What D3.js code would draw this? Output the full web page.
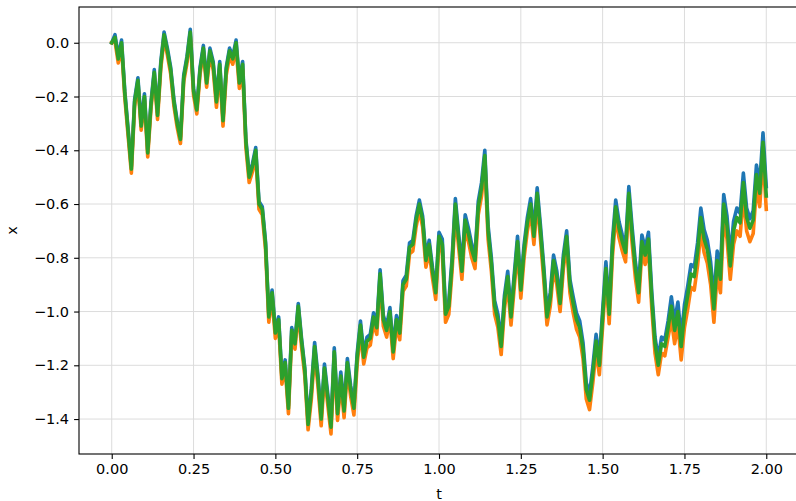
<!DOCTYPE html>
<html>
<head>
<meta charset="utf-8">
<script src="https://cdn.jsdelivr.net/npm/d3@7"></script>
<style>
  html, body { margin: 0; padding: 0; background: #fff; }
  svg { display: block; font-family: "DejaVu Sans", sans-serif; }
</style>
</head>
<body>
<svg id="chart" width="796" height="501"></svg>
<script>
// Three numerical solutions of the same SDE path, sampled every 0.01 on t in [0, 2]
const tStep = 0.01;
const seriesBlue = [
  0.00, 0.03, -0.05, 0.01, -0.18, -0.32, -0.46, -0.21, -0.13, -0.30,
  -0.19, -0.40, -0.22, -0.10, -0.26, -0.07, 0.04, -0.02, -0.09, -0.21,
  -0.29, -0.35, -0.12, -0.05, 0.05, -0.17, -0.24, -0.09, -0.01, -0.14,
  -0.02, -0.07, -0.21, -0.07, -0.28, -0.09, -0.02, -0.05, 0.01, -0.14,
  -0.07, -0.36, -0.49, -0.45, -0.39, -0.59, -0.61, -0.74, -1.01, -0.92,
  -1.07, -1.02, -1.24, -1.18, -1.35, -1.06, -1.11, -0.97, -1.10, -1.21,
  -1.41, -1.285, -1.115, -1.235, -1.385, -1.195, -1.305, -1.415, -1.135, -1.365,
  -1.225, -1.355, -1.175, -1.275, -1.345, -1.155, -1.035, -1.155, -1.095, -1.085,
  -1.005, -1.045, -0.845, -1.015, -1.055, -0.985, -1.135, -1.015, -1.065, -0.885,
  -0.865, -0.745, -0.735, -0.645, -0.585, -0.645, -0.795, -0.735, -0.835, -0.915,
  -0.705, -0.73, -0.99, -0.96, -0.80, -0.58, -0.71, -0.83, -0.64, -0.69,
  -0.75, -0.79, -0.59, -0.52, -0.40, -0.68, -0.80, -0.96, -1.01, -1.11,
  -0.94, -0.85, -1.00, -0.86, -0.72, -0.90, -0.75, -0.65, -0.58, -0.70,
  -0.54, -0.68, -0.83, -1.00, -0.93, -0.79, -0.85, -0.95, -0.79, -0.70,
  -0.88, -0.945, -1.005, -1.035, -1.115, -1.265, -1.305, -1.205, -1.085, -1.175,
  -0.995, -0.815, -0.985, -0.735, -0.585, -0.665, -0.715, -0.755, -0.535, -0.685,
  -0.815, -0.905, -0.715, -0.765, -0.705, -0.925, -1.095, -1.175, -1.095, -1.105,
  -1.035, -0.945, -1.035, -0.965, -1.095, -0.975, -0.905, -0.825, -0.835, -0.745,
  -0.615, -0.695, -0.735, -0.815, -0.955, -0.775, -0.845, -0.565, -0.645, -0.795,
  -0.665, -0.615, -0.635, -0.485, -0.615, -0.655, -0.625, -0.455, -0.525, -0.335,
  -0.535
];
const seriesOrange = [
  0.00, 0.005, -0.075, -0.015, -0.205, -0.345, -0.485, -0.235, -0.155, -0.325,
  -0.215, -0.425, -0.245, -0.125, -0.285, -0.095, 0.015, -0.045, -0.115, -0.235,
  -0.315, -0.375, -0.145, -0.075, 0.025, -0.195, -0.265, -0.115, -0.035, -0.165,
  -0.045, -0.10, -0.24, -0.10, -0.31, -0.12, -0.05, -0.08, -0.02, -0.17,
  -0.10, -0.39, -0.52, -0.48, -0.42, -0.62, -0.64, -0.77, -1.04, -0.95,
  -1.10, -1.05, -1.27, -1.21, -1.38, -1.09, -1.14, -1.00, -1.13, -1.24,
  -1.44, -1.325, -1.155, -1.275, -1.425, -1.235, -1.345, -1.455, -1.175, -1.405,
  -1.265, -1.395, -1.215, -1.315, -1.385, -1.195, -1.075, -1.195, -1.135, -1.125,
  -1.045, -1.085, -0.885, -1.055, -1.095, -1.025, -1.175, -1.055, -1.105, -0.925,
  -0.905, -0.785, -0.775, -0.685, -0.625, -0.685, -0.835, -0.775, -0.875, -0.955,
  -0.745, -0.78, -1.04, -1.01, -0.85, -0.63, -0.76, -0.88, -0.69, -0.74,
  -0.80, -0.84, -0.64, -0.57, -0.45, -0.73, -0.85, -1.01, -1.06, -1.16,
  -0.99, -0.90, -1.05, -0.91, -0.77, -0.95, -0.80, -0.70, -0.63, -0.75,
  -0.59, -0.73, -0.88, -1.05, -0.98, -0.84, -0.90, -1.00, -0.84, -0.75,
  -0.93, -1.005, -1.065, -1.095, -1.175, -1.325, -1.365, -1.265, -1.145, -1.235,
  -1.055, -0.875, -1.045, -0.795, -0.645, -0.725, -0.775, -0.815, -0.595, -0.745,
  -0.875, -0.965, -0.775, -0.825, -0.765, -0.985, -1.155, -1.235, -1.155, -1.165,
  -1.095, -1.03, -1.12, -1.05, -1.18, -1.06, -0.99, -0.91, -0.92, -0.83,
  -0.70, -0.78, -0.82, -0.90, -1.04, -0.86, -0.93, -0.65, -0.73, -0.88,
  -0.75, -0.70, -0.72, -0.57, -0.70, -0.74, -0.71, -0.54, -0.61, -0.42,
  -0.62
];
const seriesGreen = [
  0.00, 0.02, -0.06, 0.00, -0.19, -0.33, -0.47, -0.22, -0.14, -0.31,
  -0.20, -0.41, -0.23, -0.11, -0.27, -0.08, 0.03, -0.03, -0.10, -0.22,
  -0.30, -0.36, -0.13, -0.06, 0.04, -0.18, -0.25, -0.10, -0.02, -0.15,
  -0.03, -0.08, -0.22, -0.08, -0.29, -0.10, -0.03, -0.06, 0.00, -0.15,
  -0.08, -0.37, -0.50, -0.46, -0.40, -0.60, -0.62, -0.75, -1.02, -0.93,
  -1.08, -1.03, -1.25, -1.19, -1.36, -1.07, -1.12, -0.98, -1.11, -1.22,
  -1.42, -1.30, -1.13, -1.25, -1.40, -1.21, -1.32, -1.43, -1.15, -1.38,
  -1.24, -1.37, -1.19, -1.29, -1.36, -1.17, -1.05, -1.17, -1.11, -1.10,
  -1.02, -1.06, -0.86, -1.03, -1.07, -1.00, -1.15, -1.03, -1.08, -0.90,
  -0.88, -0.76, -0.75, -0.66, -0.60, -0.66, -0.81, -0.75, -0.85, -0.93,
  -0.72, -0.75, -1.01, -0.98, -0.82, -0.60, -0.73, -0.85, -0.66, -0.71,
  -0.77, -0.81, -0.61, -0.54, -0.42, -0.70, -0.82, -0.98, -1.03, -1.13,
  -0.96, -0.87, -1.02, -0.88, -0.74, -0.92, -0.77, -0.67, -0.60, -0.72,
  -0.56, -0.70, -0.85, -1.02, -0.95, -0.81, -0.87, -0.97, -0.81, -0.72,
  -0.90, -0.97, -1.03, -1.06, -1.14, -1.29, -1.33, -1.23, -1.11, -1.20,
  -1.02, -0.84, -1.01, -0.76, -0.61, -0.69, -0.74, -0.78, -0.56, -0.71,
  -0.84, -0.93, -0.74, -0.79, -0.73, -0.95, -1.12, -1.20, -1.12, -1.13,
  -1.06, -0.98, -1.07, -1.00, -1.13, -1.01, -0.94, -0.86, -0.87, -0.78,
  -0.65, -0.73, -0.77, -0.85, -0.99, -0.81, -0.88, -0.60, -0.68, -0.83,
  -0.70, -0.65, -0.67, -0.52, -0.65, -0.69, -0.66, -0.49, -0.56, -0.37,
  -0.57
];
const xTickValues = [0, 0.25, 0.5, 0.75, 1.0, 1.25, 1.5, 1.75, 2.0];
const yTickValues = [0.0, -0.2, -0.4, -0.6, -0.8, -1.0, -1.2, -1.4];
const seriesColors = ["#1f77b4", "#ff7f0e", "#2ca02c"];

const svg = d3.select("#chart");
const plot = { left: 79, top: 7, right: 799, bottom: 454 };

const x = d3.scaleLinear().domain([-0.1, 2.1]).range([plot.left, plot.right]);
const y = d3.scaleLinear().domain([-1.530, 0.133]).range([plot.bottom, plot.top]);

// grid
const grid = svg.append("g").attr("stroke", "#dcdcdc").attr("stroke-width", 1);
grid.selectAll("line.gx").data(xTickValues).join("line")
  .attr("x1", d => x(d)).attr("x2", d => x(d))
  .attr("y1", plot.top).attr("y2", plot.bottom);
grid.selectAll("line.gy").data(yTickValues).join("line")
  .attr("x1", plot.left).attr("x2", plot.right)
  .attr("y1", d => y(d)).attr("y2", d => y(d));

// lines
svg.append("clipPath").attr("id", "plotclip").append("rect")
  .attr("x", plot.left).attr("y", plot.top)
  .attr("width", plot.right - plot.left).attr("height", plot.bottom - plot.top);

const line = d3.line()
  .x((d, i) => x(i * tStep))
  .y(d => y(d));

const lines = svg.append("g").attr("clip-path", "url(#plotclip)");
[seriesBlue, seriesOrange, seriesGreen].forEach((s, k) => {
  lines.append("path")
    .attr("d", line(s))
    .attr("fill", "none")
    .attr("stroke", seriesColors[k])
    .attr("stroke-width", 3.6)
    .attr("stroke-linejoin", "round")
    .attr("stroke-linecap", "square");
});

// axes
const fmtX = d3.format(".2f");
const fmtY = d => d3.format(".1f")(d).replace("-", "\u2212");

const xAxis = d3.axisBottom(x).tickValues(xTickValues).tickFormat(fmtX)
  .tickSize(4.9).tickPadding(5);
const yAxis = d3.axisLeft(y).tickValues(yTickValues).tickFormat(fmtY)
  .tickSize(4.9).tickPadding(5);

const gx = svg.append("g").attr("transform", `translate(0,${plot.bottom})`).call(xAxis);
const gy = svg.append("g").attr("transform", `translate(${plot.left},0)`).call(yAxis);
[gx, gy].forEach(g => {
  g.select(".domain").remove();
  g.selectAll(".tick line").attr("stroke", "#000").attr("stroke-width", 1.1);
  g.selectAll(".tick text")
    .attr("fill", "#000")
    .style("font-family", "'DejaVu Sans', sans-serif")
    .style("font-size", "14.5px");
});

// frame
svg.append("rect")
  .attr("x", plot.left).attr("y", plot.top)
  .attr("width", plot.right - plot.left).attr("height", plot.bottom - plot.top)
  .attr("fill", "none").attr("stroke", "#000").attr("stroke-width", 1.1);

// axis titles
svg.append("text")
  .attr("x", (plot.left + plot.right) / 2).attr("y", 499)
  .attr("text-anchor", "middle")
  .style("font-size", "14.5px")
  .text("t");
svg.append("text")
  .attr("transform", `translate(17,${(plot.top + plot.bottom) / 2}) rotate(-90)`)
  .attr("text-anchor", "middle")
  .style("font-size", "14.5px")
  .text("x");
</script>
</body>
</html>
